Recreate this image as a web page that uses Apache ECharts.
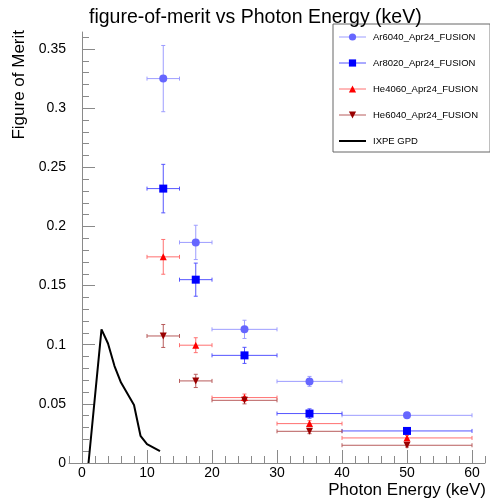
<!DOCTYPE html>
<html>
<head>
<meta charset="utf-8">
<script src="https://cdn.jsdelivr.net/npm/echarts@6/dist/echarts.min.js"></script>
<style>
html,body{margin:0;padding:0;background:#fff;}
#chart{width:490px;height:498px;}
</style>
</head>
<body>
<div id="chart"></div>
<script>
// ---- data ----
const energies   = [12.5, 17.5, 25, 35, 50];
const energyLow  = [10, 15, 20, 30, 40];
const energyHigh = [15, 20, 30, 40, 60];

const ar6040    = [0.325, 0.1865, 0.113, 0.069, 0.0403];
const ar6040Err = [0.028, 0.0145, 0.0077, 0.0042, 0.002];
const ar8020    = [0.232, 0.155, 0.091, 0.0418, 0.0271];
const ar8020Err = [0.0205, 0.014, 0.0068, 0.004, 0.0022];
const he4060    = [0.1743, 0.0996, 0.0553, 0.0333, 0.0212];
const he4060Err = [0.0147, 0.0063, 0.003, 0.0025, 0.002];
const he6040    = [0.1074, 0.0694, 0.053, 0.0268, 0.015];
const he6040Err = [0.0097, 0.0056, 0.003, 0.002, 0.0015];

const gpdEnergy = [1, 3, 4, 5, 6, 8, 9, 10, 12];
const gpdFom    = [0, 0.113, 0.101, 0.082, 0.068, 0.049, 0.023, 0.016, 0.010];

const xTickLabels = [0, 10, 20, 30, 40, 50, 60];
const xMinorTicks = [-2, 0, 2, 4, 6, 8, 10, 12, 14, 16, 18, 20, 22, 24, 26, 28, 30, 32, 34, 36, 38, 40, 42, 44, 46, 48, 50, 52, 54, 56, 58, 60, 62];
const yTickLabels = [0, 0.05, 0.1, 0.15, 0.2, 0.25, 0.3, 0.35];
const yMinorTicks = [0, 0.01, 0.02, 0.03, 0.04, 0.05, 0.06, 0.07, 0.08, 0.09, 0.1, 0.11, 0.12, 0.13, 0.14, 0.15, 0.16, 0.17, 0.18, 0.19, 0.2, 0.21, 0.22, 0.23, 0.24, 0.25, 0.26, 0.27, 0.28, 0.29, 0.3, 0.31, 0.32, 0.33, 0.34, 0.35, 0.36];

const seriesNames = ['Ar6040_Apr24_FUSION', 'Ar8020_Apr24_FUSION', 'He4060_Apr24_FUSION', 'He6040_Apr24_FUSION', 'IXPE GPD'];

// ---- chart ----
const FONT = '"Liberation Sans", Arial, Helvetica, sans-serif';
const AXIS_COLOR = '#8a8a8a';

function errorSeries(name, ys, errs, color) {
  const data = energies.map((x, i) => [x, ys[i], energyLow[i], energyHigh[i], ys[i] - errs[i], ys[i] + errs[i]]);
  return {
    type: 'custom',
    name: name + ' errors',
    data: data,
    z: 2,
    silent: true,
    clip: false,
    encode: { x: 0, y: 1 },
    renderItem: function (params, api) {
      const c = api.coord([api.value(0), api.value(1)]);
      const l = api.coord([api.value(2), api.value(1)]);
      const r = api.coord([api.value(3), api.value(1)]);
      const b = api.coord([api.value(0), api.value(4)]);
      const t = api.coord([api.value(0), api.value(5)]);
      const cap = 2;
      const st = { stroke: color, lineWidth: 1, fill: null };
      return {
        type: 'group',
        children: [
          { type: 'line', shape: { x1: l[0], y1: c[1], x2: r[0], y2: c[1] }, style: st },
          { type: 'line', shape: { x1: l[0], y1: c[1] - cap, x2: l[0], y2: c[1] + cap }, style: st },
          { type: 'line', shape: { x1: r[0], y1: c[1] - cap, x2: r[0], y2: c[1] + cap }, style: st },
          { type: 'line', shape: { x1: c[0], y1: b[1], x2: c[0], y2: t[1] }, style: st },
          { type: 'line', shape: { x1: c[0] - cap, y1: b[1], x2: c[0] + cap, y2: b[1] }, style: st },
          { type: 'line', shape: { x1: c[0] - cap, y1: t[1], x2: c[0] + cap, y2: t[1] }, style: st }
        ]
      };
    }
  };
}

function markerSeries(name, ys, symbol, size, rotate, color, lineColor) {
  return {
    type: 'line',
    name: name,
    data: energies.map((x, i) => [x, ys[i]]),
    symbol: symbol,
    symbolSize: size,
    symbolRotate: rotate,
    showSymbol: true,
    showAllSymbol: true,
    z: 3,
    itemStyle: { color: color, borderWidth: 0 },
    lineStyle: { color: lineColor, width: 1, opacity: 0 },
    emphasis: { disabled: true }
  };
}

const cfg = [
  { name: seriesNames[0], ys: ar6040, errs: ar6040Err, symbol: 'circle', size: 8, rot: 0, color: '#6666ff', bar: '#9d9dff' },
  { name: seriesNames[1], ys: ar8020, errs: ar8020Err, symbol: 'rect', size: 8, rot: 0, color: '#0000ff', bar: '#5555ff' },
  { name: seriesNames[2], ys: he4060, errs: he4060Err, symbol: 'triangle', size: 7, rot: 0, color: '#ff0000', bar: '#ff7070' },
  { name: seriesNames[3], ys: he6040, errs: he6040Err, symbol: 'triangle', size: 7, rot: 180, color: '#990000', bar: '#b85c5c' }
];

const series = [];
cfg.forEach(c => series.push(errorSeries(c.name, c.ys, c.errs, c.bar)));
cfg.forEach(c => series.push(markerSeries(c.name, c.ys, c.symbol, c.size, c.rot, c.color, c.bar)));
series.push({
  type: 'line',
  name: seriesNames[4],
  data: gpdEnergy.map((x, i) => [x, gpdFom[i]]),
  symbol: 'none',
  z: 4,
  lineStyle: { color: '#000', width: 2 },
  itemStyle: { color: '#000' },
  emphasis: { disabled: true }
});

const legendData = cfg.map(c => ({ name: c.name, lineStyle: { opacity: 1, color: c.bar, width: 1 } }));
legendData.push({ name: seriesNames[4], lineStyle: { opacity: 1, color: '#000', width: 2 }, itemStyle: { opacity: 0 } });

const chart = echarts.init(document.getElementById('chart'), null, { renderer: 'canvas' });
chart.setOption({
  animation: false,
  backgroundColor: '#fff',
  textStyle: { fontFamily: FONT },
  title: {
    text: 'figure-of-merit vs Photon Energy (keV)',
    left: 84,
    top: 3,
    textStyle: { fontSize: 19.5, fontWeight: 'normal', color: '#000', fontFamily: FONT }
  },
  grid: { left: 69, right: 5, top: 32, bottom: 35, containLabel: false },
  legend: {
    orient: 'vertical',
    left: 333,
    top: 24,
    padding: [8, 12, 6, 5],
    itemWidth: 27,
    itemHeight: 9,
    itemGap: 16,
    backgroundColor: '#fff',
    borderColor: '#666',
    borderWidth: 1,
    selectedMode: false,
    textStyle: { fontSize: 9.5, color: '#000', fontFamily: FONT, padding: [0, 0, 0, 2] },
    data: legendData
  },
  xAxis: [
    {
      type: 'value', min: -2, max: 62,
      axisLine: { show: true, lineStyle: { color: AXIS_COLOR, width: 1 } },
      axisTick: { show: true, inside: true, length: 13, customValues: xTickLabels, lineStyle: { color: AXIS_COLOR } },
      axisLabel: { customValues: xTickLabels, margin: 3, fontSize: 14, color: '#000', fontFamily: FONT },
      splitLine: { show: false }
    },
    {
      type: 'value', min: -2, max: 62, position: 'bottom',
      axisLine: { show: false },
      axisTick: { show: true, inside: true, length: 7, customValues: xMinorTicks, lineStyle: { color: AXIS_COLOR } },
      axisLabel: { show: false },
      splitLine: { show: false }
    }
  ],
  yAxis: [
    {
      type: 'value', min: 0, max: 0.3644,
      axisLine: { show: true, lineStyle: { color: AXIS_COLOR, width: 1 } },
      axisTick: { show: true, inside: true, length: 13, customValues: yTickLabels, lineStyle: { color: AXIS_COLOR } },
      axisLabel: { customValues: yTickLabels, margin: 3, fontSize: 14, color: '#000', fontFamily: FONT },
      splitLine: { show: false }
    },
    {
      type: 'value', min: 0, max: 0.3644, position: 'left',
      axisLine: { show: false },
      axisTick: { show: true, inside: true, length: 7, customValues: yMinorTicks, lineStyle: { color: AXIS_COLOR } },
      axisLabel: { show: false },
      splitLine: { show: false }
    }
  ],
  graphic: [
    {
      type: 'text', x: 19, y: 30, rotation: Math.PI / 2,
      style: { text: 'Figure of Merit', font: '17px ' + FONT, fill: '#000', align: 'right', verticalAlign: 'middle' }
    },
    {
      type: 'text', x: 486, y: 490,
      style: { text: 'Photon Energy (keV)', font: '17px ' + FONT, fill: '#000', align: 'right', verticalAlign: 'middle' }
    }
  ],
  series: series
});
</script>
</body>
</html>
